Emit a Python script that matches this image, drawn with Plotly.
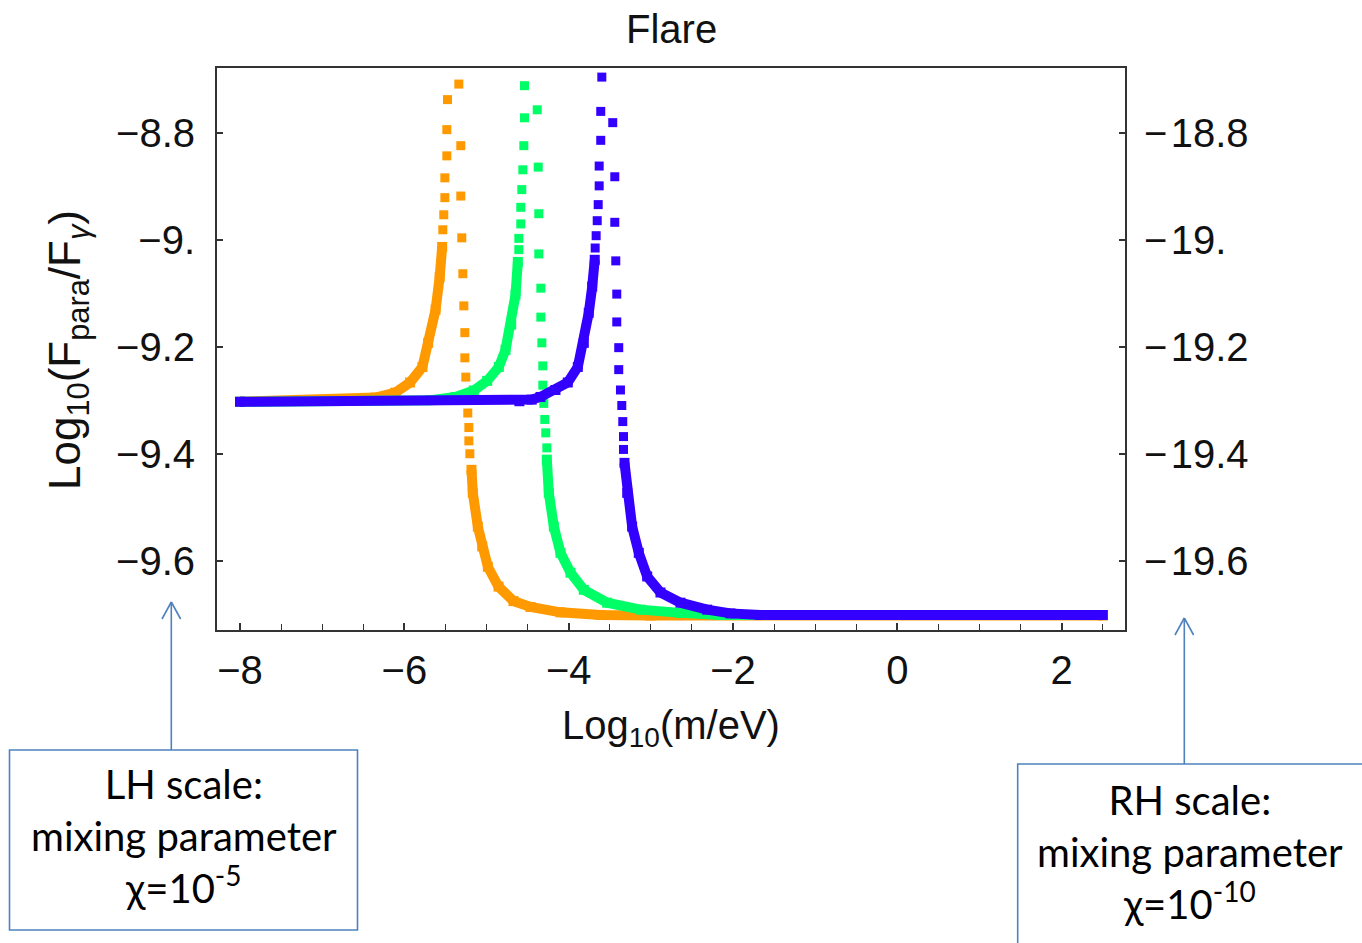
import plotly.graph_objects as go

# ---- data: Log10(F_para/F_gamma) versus Log10(m/eV) for three flare curves ----
# dense rising branch (low-mass side), sparse points near the resonance, dense falling branch
ORANGE_LOW_X = [-8.0, -6.59, -6.35, -6.11, -5.93, -5.78, -5.71, -5.62, -5.57, -5.54]
ORANGE_LOW_Y = [-9.302, -9.299, -9.294, -9.285, -9.266, -9.237, -9.192, -9.130, -9.069, -9.013]
ORANGE_PEAK_X = [-5.532, -5.520, -5.507, -5.507, -5.483, -5.483, -5.475,
                 -5.337, -5.313, -5.313, -5.301, -5.288, -5.276, -5.264, -5.264,
                 -5.252, -5.228, -5.215, -5.215, -5.203]
ORANGE_PEAK_Y = [-8.981, -8.953, -8.921, -8.884, -8.843, -8.794, -8.738,
                 -8.709, -8.824, -8.918, -8.996, -9.063, -9.123, -9.173, -9.220,
                 -9.256, -9.323, -9.350, -9.375, -9.399]
ORANGE_HIGH_X = [-5.183, -5.167, -5.106, -5.052, -4.984, -4.854, -4.672, -4.465,
                 -4.100, -3.613, -3.005, 2.5]
ORANGE_HIGH_Y = [-9.429, -9.472, -9.535, -9.572, -9.610, -9.647, -9.674, -9.685,
                 -9.695, -9.700, -9.701, -9.701]

GREEN_LOW_X = [-8.0, -5.68, -5.377, -5.155, -4.992, -4.850, -4.769, -4.700, -4.647, -4.619]
GREEN_LOW_Y = [-9.302, -9.299, -9.293, -9.281, -9.263, -9.237, -9.205, -9.158, -9.102, -9.041]
GREEN_PEAK_X = [-4.607, -4.607, -4.583, -4.583, -4.571, -4.558, -4.546, -4.538, -4.538,
                -4.383, -4.371, -4.364, -4.364, -4.339, -4.339, -4.327, -4.315, -4.315,
                -4.303, -4.291, -4.279, -4.266]
GREEN_PEAK_Y = [-9.018, -8.997, -8.970, -8.939, -8.906, -8.869, -8.824, -8.772, -8.712,
                -8.757, -8.864, -8.951, -9.026, -9.090, -9.144, -9.192, -9.235, -9.271,
                -9.305, -9.335, -9.360, -9.388]
GREEN_HIGH_X = [-4.266, -4.242, -4.181, -4.100, -3.978, -3.816, -3.532, -3.127,
                -2.640, -2.153, 2.5]
GREEN_HIGH_Y = [-9.410, -9.472, -9.535, -9.584, -9.621, -9.653, -9.677, -9.690,
                -9.696, -9.700, -9.700]

BLUE_LOW_X = [-8.0, -4.60, -4.45, -4.343, -4.161, -4.011, -3.889, -3.816, -3.756, -3.714, -3.683]
BLUE_LOW_Y = [-9.302, -9.301, -9.298, -9.293, -9.280, -9.266, -9.237, -9.192, -9.136, -9.087, -9.037]
BLUE_PEAK_X = [-3.678, -3.666, -3.653, -3.641, -3.629, -3.629, -3.610, -3.610, -3.597,
               -3.464, -3.439, -3.439, -3.427, -3.415, -3.415, -3.391, -3.391, -3.370,
               -3.354, -3.342, -3.333, -3.333]
BLUE_PEAK_Y = [-9.015, -8.992, -8.964, -8.934, -8.899, -8.862, -8.814, -8.760, -8.696,
               -8.781, -8.882, -8.967, -9.039, -9.101, -9.153, -9.201, -9.242, -9.280,
               -9.309, -9.339, -9.367, -9.391]
BLUE_HIGH_X = [-3.321, -3.288, -3.228, -3.147, -3.045, -2.883, -2.640, -2.315,
               -2.032, -1.667, 2.5]
BLUE_HIGH_Y = [-9.416, -9.472, -9.535, -9.584, -9.628, -9.658, -9.677, -9.690,
               -9.697, -9.700, -9.700]

X_TICKS = [-8, -6, -4, -2, 0, 2]
Y_TICKS = [-8.8, -9.0, -9.2, -9.4, -9.6]
Y_TICK_TEXT = ["\u22128.8", "\u22129.", "\u22129.2", "\u22129.4", "\u22129.6"]
# right-hand scale (mixing parameter 1e-10) sits 10 decades below the left one
Y2_TICKS = [-18.8, -19.0, -19.2, -19.4, -19.6]
Y2_TICK_TEXT = ["\u2212\u200a18.8", "\u2212\u200a19.", "\u2212\u200a19.2", "\u2212\u200a19.4", "\u2212\u200a19.6"]

X_RANGE = [-8.28, 2.77]
Y_RANGE = [-9.728, -8.679]
RH_OFFSET = -10

COLORS = {"orange": "#FF9900", "green": "#00FF66", "blue": "#3300FF"}
SERIES = [
    ("orange", ORANGE_LOW_X, ORANGE_LOW_Y, ORANGE_PEAK_X, ORANGE_PEAK_Y, ORANGE_HIGH_X, ORANGE_HIGH_Y),
    ("green", GREEN_LOW_X, GREEN_LOW_Y, GREEN_PEAK_X, GREEN_PEAK_Y, GREEN_HIGH_X, GREEN_HIGH_Y),
    ("blue", BLUE_LOW_X, BLUE_LOW_Y, BLUE_PEAK_X, BLUE_PEAK_Y, BLUE_HIGH_X, BLUE_HIGH_Y),
]

W, H = 1362, 943
L, R, T, B = 217, 237, 68, 313
PW, PH = W - L - R, H - T - B

FONT = "Liberation Sans"
BOX_FONT = "Lato"
BOX_BLUE = "#4F81BD"
FRAME = "#333333"
MARK = 10


def px_x(px):
    return (px - L) / PW


def px_y(py):
    return (H - B - py) / PH


fig = go.Figure()
for name, lx, ly, px_, py_, hx, hy in SERIES:
    c = COLORS[name]
    for bx, by in ((lx, ly), (hx, hy)):
        fig.add_trace(go.Scatter(
            x=bx, y=by, mode="lines+markers",
            line=dict(color=c, width=MARK),
            marker=dict(symbol="square", size=MARK, color=c, line=dict(width=0)),
            hoverinfo="skip", showlegend=False))
    fig.add_trace(go.Scatter(
        x=px_, y=py_, mode="markers",
        marker=dict(symbol="square", size=MARK - 1, color=c, line=dict(width=0)),
        hoverinfo="skip", showlegend=False))

# carrier for the right-hand scale
fig.add_trace(go.Scatter(x=[None], y=[None], yaxis="y2", showlegend=False, hoverinfo="skip"))

tickfont = dict(family=FONT, size=40, color="#111111")

fig.update_layout(
    width=W, height=H, autosize=False,
    margin=dict(l=L, r=R, t=T, b=B, pad=0),
    paper_bgcolor="white", plot_bgcolor="white",
    showlegend=False,
    xaxis=dict(
        range=X_RANGE, tickvals=X_TICKS, showgrid=False, zeroline=False,
        showline=True, linecolor=FRAME, linewidth=2, mirror=True,
        ticks="inside", ticklen=7, tickwidth=1.5, tickcolor=FRAME,
        minor=dict(dtick=0.5, tick0=0, ticks="inside", ticklen=6, tickwidth=1.3,
                   tickcolor=FRAME, showgrid=False),
        tickfont=tickfont, ticklabelstandoff=4,
    ),
    yaxis=dict(
        range=Y_RANGE, tickvals=Y_TICKS, ticktext=Y_TICK_TEXT, showgrid=False,
        zeroline=False, showline=True, linecolor=FRAME, linewidth=2, mirror="ticks",
        ticks="inside", ticklen=6, tickwidth=1.5, tickcolor=FRAME,
        tickfont=tickfont, ticklabelstandoff=12,
    ),
    yaxis2=dict(
        range=[Y_RANGE[0] + RH_OFFSET, Y_RANGE[1] + RH_OFFSET], overlaying="y", side="right",
        tickvals=Y2_TICKS, ticktext=Y2_TICK_TEXT, showgrid=False, zeroline=False,
        showline=False, ticks="", tickfont=tickfont, ticklabelstandoff=18,
    ),
)

annotations = [
    dict(text="Flare", x=px_x(671), y=px_y(29), font=dict(family=FONT, size=40, color="#111111")),
    dict(text="Log<sub>10</sub>(m/eV)", x=px_x(671), y=px_y(728),
         font=dict(family=FONT, size=40, color="#111111")),
    dict(text="Log<sub>10</sub>(F<sub>para</sub>/F<sub><i>γ</i></sub>)", x=px_x(68), y=px_y(350),
         textangle=-90, font=dict(family=FONT, size=44, color="#111111")),
    dict(text="LH scale:<br>mixing parameter<br>χ=10<sup>-5</sup>", x=px_x(183.5), y=px_y(836),
         font=dict(family=BOX_FONT, size=40, color="#000000"), align="center"),
    dict(text="RH scale:<br>mixing parameter<br>χ=10<sup>-10</sup>", x=px_x(1190), y=px_y(852),
         font=dict(family=BOX_FONT, size=40, color="#000000"), align="center"),
]
for a in annotations:
    a.update(xref="paper", yref="paper", showarrow=False, xanchor="center", yanchor="middle")
fig.update_layout(annotations=annotations)

line_style = dict(color=BOX_BLUE, width=1.6)
shapes = [
    # callout boxes
    dict(type="rect", x0=px_x(9.5), x1=px_x(357.5), y0=px_y(750), y1=px_y(930)),
    dict(type="rect", x0=px_x(1017.7), x1=px_x(1375), y0=px_y(764), y1=px_y(960)),
    # arrow shafts
    dict(type="line", x0=px_x(171.3), x1=px_x(171.3), y0=px_y(750), y1=px_y(602)),
    dict(type="line", x0=px_x(1184.3), x1=px_x(1184.3), y0=px_y(764), y1=px_y(618)),
    # open arrow heads
    dict(type="line", x0=px_x(171.3), x1=px_x(162), y0=px_y(602), y1=px_y(619)),
    dict(type="line", x0=px_x(171.3), x1=px_x(180.6), y0=px_y(602), y1=px_y(619)),
    dict(type="line", x0=px_x(1184.3), x1=px_x(1175), y0=px_y(618), y1=px_y(635)),
    dict(type="line", x0=px_x(1184.3), x1=px_x(1193.6), y0=px_y(618), y1=px_y(635)),
]
for s in shapes:
    s.update(xref="paper", yref="paper", line=line_style, layer="above")
fig.update_layout(shapes=shapes)

fig.write_html("out.html")
